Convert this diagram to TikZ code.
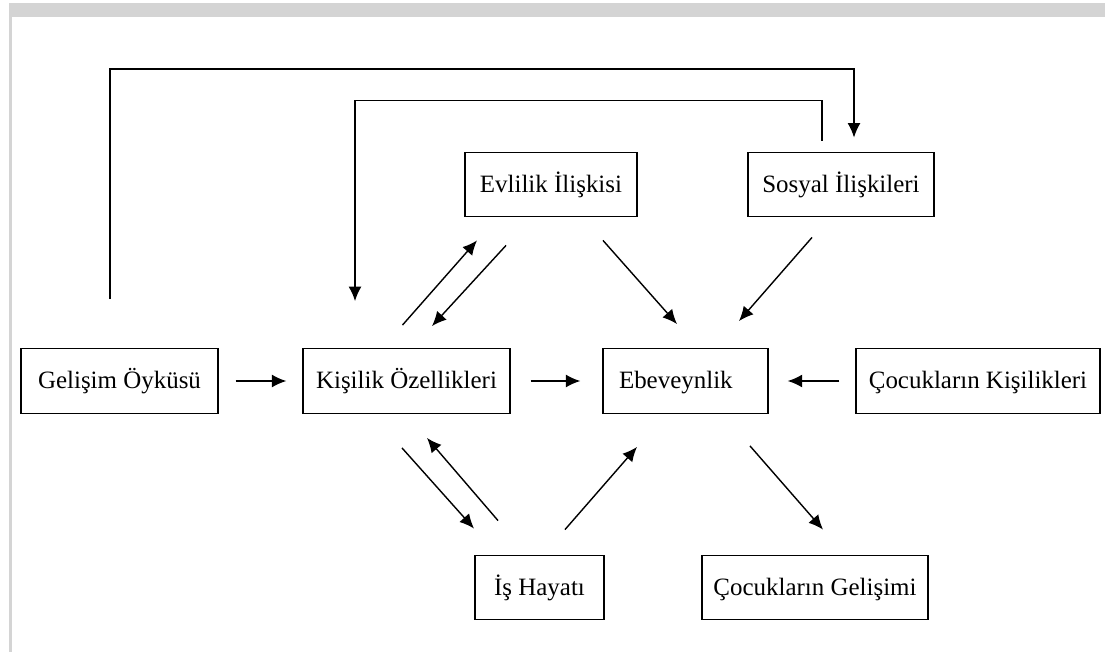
\documentclass[tikz,border=0pt]{standalone}
\usepackage{fontspec}
\setmainfont{Liberation Serif}
\usepackage{tikz}
\usetikzlibrary{arrows.meta,calc}
\definecolor{cerceve}{HTML}{D4D4D4}

\begin{document}
\begin{tikzpicture}[x=0.02cm,y=-0.02cm,
    kutu/.style={draw,line width=0.8pt,minimum height=1.29cm,inner sep=0pt,
      text height=12.5pt,text depth=3.5pt,font=\fontsize{14.2}{16}\selectfont},
    ok/.style={line width=0.8pt,-{Latex[length=0.29cm,width=0.26cm]}}]
            \useasboundingbox (0,0) rectangle (1105,652);
            % çerçeve
            \fill[cerceve] (9,3) rectangle (1105,17);
            \fill[cerceve] (9,17) rectangle (12,652);
            % kutular
            \node[kutu,minimum width=3.94cm] (gelisim) at (119.5,381) {Gelişim Öyküsü};
            \node[kutu,minimum width=4.14cm] (kisilik) at (406.5,381) {Kişilik Özellikleri};
            \node[kutu,minimum width=3.30cm] (ebeveyn) at (685.5,381) {\makebox[2.66cm][l]{Ebeveynlik}};
            \node[kutu,minimum width=4.88cm] (cocukk) at (978,381) {Çocukların Kişilikleri};
            \node[kutu,minimum width=3.44cm] (evlilik) at (551,184.5) {Evlilik İlişkisi};
            \node[kutu,minimum width=3.72cm] (sosyal) at (841,184.5) {Sosyal İlişkileri};
            \node[kutu,minimum width=2.58cm] (is) at (539.5,587.5) {İş Hayatı};
            \node[kutu,minimum width=4.52cm] (cocukg) at (815,587.5) {Çocukların Gelişimi};
            % yatay oklar
            \draw[ok,shorten <=0.34cm,shorten >=0.32cm] (gelisim) -- (kisilik);
            \draw[ok,shorten <=0.40cm,shorten >=0.44cm] (kisilik) -- (ebeveyn);
            \draw[ok,shorten <=0.32cm,shorten >=0.38cm] (cocukk) -- (ebeveyn);
            % üst çapraz oklar
            \draw[ok] ([shift={(-4,-23)}]kisilik.north) -- ([shift={(-74,23)}]evlilik.south);
            \draw[ok] ([shift={(-45,28)}]evlilik.south) -- ([shift={(25.5,-22)}]kisilik.north);
            \draw[ok] ([shift={(52,23)}]evlilik.south) -- ([shift={(-8.5,-24)}]ebeveyn.north);
            \draw[ok] ([shift={(-29,20)}]sosyal.south) -- ([shift={(53.5,-27)}]ebeveyn.north);
            % alt çapraz oklar
            \draw[ok] ([shift={(-4.5,34)}]kisilik.south) -- ([shift={(-65.5,-26)}]is.north);
            \draw[ok] ([shift={(-41.5,-34)}]is.north) -- ([shift={(20.5,24)}]kisilik.south);
            \draw[ok] ([shift={(25.5,-25)}]is.north) -- ([shift={(-48.5,33)}]ebeveyn.south);
            \draw[ok] ([shift={(64.5,32)}]ebeveyn.south) -- ([shift={(8,-25)}]cocukg.north);
            % geri bildirim çizgileri
            \draw[ok] ([shift={(-9.5,-49)}]gelisim.north) -- ++(0,-230) -| ([shift={(13,-14)}]sosyal.north);
            \draw[ok] ([shift={(-19,-11)}]sosyal.north) -- ++(0,-40) -| ([shift={(-51.5,-47)}]kisilik.north);
        \end{tikzpicture}
\end{document}
